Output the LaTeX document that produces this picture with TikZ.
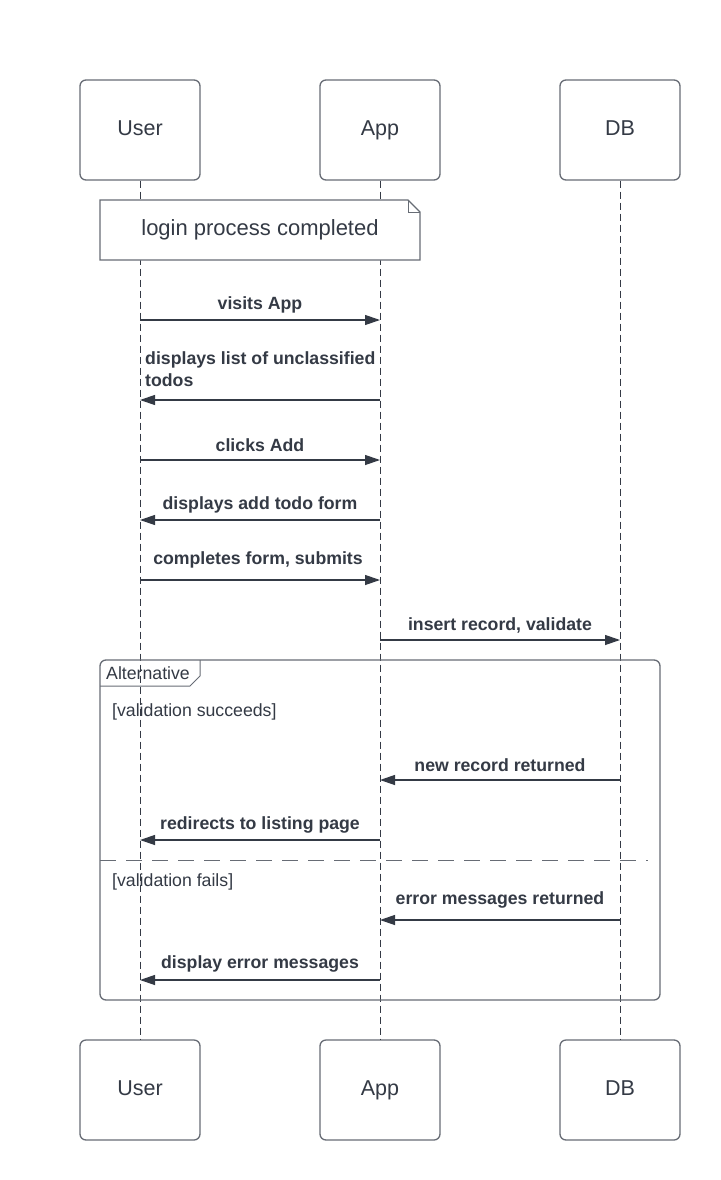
\documentclass[tikz,border=0pt]{standalone}
\usepackage{fontspec}
\setmainfont{Liberation Sans}
\usetikzlibrary{arrows.meta}
\definecolor{ink}{HTML}{343A45}
\definecolor{frame}{HTML}{676C75}
\begin{document}
\begin{tikzpicture}[x=1pt,y=-1pt,
  actor/.style={draw=frame,line width=1.3pt,rounded corners=6pt,minimum width=120pt,minimum height=100pt,
    text=ink,font=\fontsize{21.5}{26}\selectfont,text height=15.4pt,text depth=4pt},
  lifeline/.style={draw=ink,line width=1pt,dash pattern=on 7pt off 4pt},
  msg/.style={draw=ink,line width=1.2pt,-{Triangle[length=15pt,width=10pt]}},
  lbl/.style={text=ink,font=\bfseries\fontsize{17.7}{22}\selectfont,inner sep=0pt,yshift=-2pt},
  guard/.style={text=ink,font=\fontsize{17.7}{21}\selectfont,inner sep=0pt,anchor=west}]
\useasboundingbox (0,0) rectangle (720,1180);
\fill[white] (0,0) rectangle (720,1180);

% actors, top and bottom
\node[actor] (ut) at (140,130) {User};
\node[actor] (at) at (380,130) {App};
\node[actor] (dt) at (620,130) {DB};
\node[actor] (ub) at (140,1090) {User};
\node[actor] (ab) at (380,1090) {App};
\node[actor] (db) at (620,1090) {DB};

% lifelines
\draw[lifeline] (ut.south) -- (ub.north);
\draw[lifeline] (at.south) -- (ab.north);
\draw[lifeline] (dt.south) -- (db.north);

% note with folded corner
\filldraw[fill=white,draw=frame,line width=1.3pt] (100,200) -- (408,200) -- (420,212) -- (420,260) -- (100,260) -- cycle;
\draw[frame,line width=1pt] (408,200) -- (408,212) -- (420,212);
\node[text=ink,font=\fontsize{22}{26}\selectfont] (note) at (260,230) {login process completed};

% message anchor points on the lifelines
\foreach \y in {320,400,460,520,580,640,780,840,920,980}{
  \coordinate (u\y) at (140,\y);
  \coordinate (a\y) at (380,\y);
  \coordinate (d\y) at (620,\y);
}

\draw[msg] (u320) -- (a320);
\node[lbl] (m1) at (260,303) {visits App};
\draw[msg] (a400) -- (u400);
\node[lbl,anchor=north west,align=left] (m2) at (145,349) {displays list of unclassified\\todos};
\draw[msg] (u460) -- (a460);
\node[lbl] (m3) at (260,443) {clicks Add};
\draw[msg] (a520) -- (u520);
\node[lbl] (m4) at (260,503) {displays add todo form};
\draw[msg] (u580) -- (a580);
\node[lbl] (m5) at (258,558) {completes form, submits};
\draw[msg] (a640) -- (d640);
\node[lbl] (m6) at (500,623) {insert record, validate};

% alternative fragment
\draw[frame,line width=1.3pt,rounded corners=6pt] (100,660) rectangle (660,1000);
\draw[frame,line width=1pt] (100,686) -- (190,686) -- (200,676) -- (200,660);
\node[guard] (alt) at (106,673) {Alternative};
\node[guard] (g1) at (112,712) {[validation succeeds]};
\draw[frame,line width=1pt,dash pattern=on 16pt off 10pt] (100,860) -- (648,860);
\node[guard] (g2) at (112,882) {[validation fails]};

\draw[msg] (d780) -- (a780);
\node[lbl] (m7) at (500,763) {new record returned};
\draw[msg] (a840) -- (u840);
\node[lbl] (m8) at (260,823) {redirects to listing page};
\draw[msg] (d920) -- (a920);
\node[lbl] (m9) at (500,898) {error messages returned};
\draw[msg] (a980) -- (u980);
\node[lbl] (m10) at (260,962) {display error messages};
\end{tikzpicture}
\end{document}
